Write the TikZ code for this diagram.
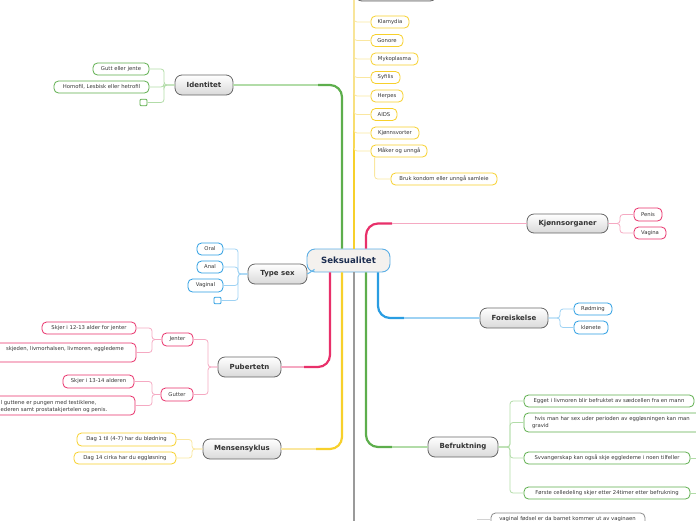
\documentclass[tikz,border=0pt]{standalone}
\usepackage{fontspec}
\setmainfont{DejaVu Sans}
\definecolor{pinkc}{HTML}{E8306A}
\definecolor{pinkl}{HTML}{F5A9C2}
\definecolor{greenc}{HTML}{5DAE4C}
\definecolor{greenl}{HTML}{B2DCA8}
\definecolor{yellowc}{HTML}{F7D02B}
\definecolor{yellowl}{HTML}{FAE7A0}
\definecolor{grayc}{HTML}{9A9A9A}
\definecolor{grayl}{HTML}{D2D2D2}
\definecolor{bluec}{HTML}{2A9DE2}
\definecolor{bluel}{HTML}{9ED2F3}
\definecolor{topicb}{HTML}{666666}
\definecolor{topicf}{HTML}{D9D9D9}
\definecolor{topict}{HTML}{333333}
\definecolor{subt}{HTML}{363636}
\definecolor{ctrb}{HTML}{5BAEE5}
\definecolor{ctrf}{HTML}{F4F1EE}
\definecolor{ctrt}{HTML}{1C2D50}
\definecolor{grayn}{HTML}{8A8A8A}
\tikzset{
  topic/.style={draw=topicb, line width=0.8pt, rounded corners=7pt, top color=white, bottom color=topicf,
    text=topict, font=\fontsize{7}{8}\selectfont\bfseries, inner sep=0pt, minimum height=20pt},
  ctrnode/.style={draw=ctrb, line width=0.9pt, rounded corners=8pt, fill=ctrf, text=ctrt,
    font=\fontsize{8.6}{10}\selectfont\bfseries, inner sep=0pt, minimum width=83pt, minimum height=23pt},
  sub/.style={fill=white, line width=0.8pt, rounded corners=4.5pt, text=subt,
    font=\fontsize{5.3}{6.5}\selectfont, inner sep=0pt, minimum height=12pt},
  subp/.style={sub, draw=pinkc},
  subg/.style={sub, draw=greenc},
  suby/.style={sub, draw=yellowc},
  subb/.style={sub, draw=bluec},
  subgr/.style={sub, draw=grayn},
  sq/.style={sub, rounded corners=1pt, minimum width=7pt, minimum height=6.5pt},
  plain/.style={text=subt, font=\fontsize{5.3}{6.5}\selectfont, inner sep=0pt},
  treep/.style={draw=pinkl, line width=0.8pt, rounded corners=3pt},
  treeg/.style={draw=greenl, line width=0.8pt, rounded corners=3pt},
  treey/.style={draw=yellowl, line width=0.8pt, rounded corners=3pt},
  treeb/.style={draw=bluel, line width=0.8pt, rounded corners=3pt},
  treegr/.style={draw=grayl, line width=0.8pt},
  branch/.style={line width=2.2pt, rounded corners=12pt},
  lead/.style={line width=1.1pt},
}
\begin{document}
\begin{tikzpicture}[x=1pt,y=-1pt]
\useasboundingbox (0,0) rectangle (696,520);

% ---------- topic nodes ----------
\node[ctrnode] (ctr) at (348.5,260.5) {Seksualitet};
\node[topic, minimum width=59pt] (typesex) at (277.5,274) {Type sex};
\node[topic, minimum width=58pt] (ident) at (204,85) {Identitet};
\node[topic, minimum width=63pt] (pub) at (249.5,367) {Pubertetn};
\node[topic, minimum width=78pt] (mens) at (242,449) {Mensensyklus};
\node[topic, minimum width=81pt, minimum height=19pt] (kjonn) at (567.5,223.5) {Kjønnsorganer};
\node[topic, minimum width=68pt] (forel) at (514,318) {Foreiskelse};
\node[topic, minimum width=70pt] (befr) at (463,447) {Befruktning};
\node[topic, minimum width=82pt] (stdtop) at (396,-9) {};

% ---------- coordinates for branch bends ----------
\coordinate (idk) at (318,85);
\coordinate (kjk) at (392,223.5);
\coordinate (fok) at (404,318);
\coordinate (bek) at (392,447);
\coordinate (puk) at (304,367);
\coordinate (mek) at (316,449);
\coordinate (stdroot) at (354,-4);
\coordinate (graybot) at (354,530);

% ---------- main branches ----------
\draw[branch, greenc] ([xshift=-6.5pt]ctr.north) |- (idk);
\draw[lead, greenl] (idk) -- (ident.east);
\draw[branch, yellowc] ([xshift=5.5pt]ctr.north) -- (stdroot);
\draw[branch, pinkc] ([xshift=17.5pt]ctr.north) |- (kjk);
\draw[lead, pinkl] (kjk) -- (kjonn.west);
\draw[branch, bluec] ([xshift=29.5pt]ctr.south) |- (fok);
\draw[lead, bluel] (fok) -- (forel.west);
\draw[branch, greenc] ([xshift=17.5pt]ctr.south) |- (bek);
\draw[lead, greenl] (bek) -- (befr.west);
\draw[branch, grayc] ([xshift=5.5pt]ctr.south) -- (graybot);
\draw[branch, yellowc] ([xshift=-6.5pt]ctr.south) |- (mek);
\draw[lead, yellowl] (mek) -- (mens.east);
\draw[branch, pinkc] ([xshift=-18.5pt]ctr.south) |- (puk);
\draw[lead, pinkl] (puk) -- (pub.east);
\draw[lead, bluec!70] (typesex.east) -- ([xshift=8pt,yshift=3pt]ctr.south west);

% ---------- Identitet ----------
\node[subg, minimum width=56pt] (gutt) at (121,69) {Gutt eller jente};
\node[subg, minimum width=95pt] (homo) at (101.5,87) {Homofil, Lesbisk eller hetrofil};
\node[subg, sq] (idsq) at (143.5,102.5) {};
\foreach \c in {gutt,homo,idsq} \draw[treeg] (\c.east) -| (164,85) -- (ident.west);

% ---------- Type sex ----------
\node[subb, minimum width=26pt] (oral) at (210,249) {Oral};
\node[subb, minimum width=26pt] (anal) at (210,267) {Anal};
\node[subb, minimum width=35pt, minimum height=13pt] (vaginal) at (205.5,285.5) {Vaginal};
\node[subb, sq] (tssq) at (217.5,300.5) {};
\foreach \c in {oral,anal,vaginal,tssq} \draw[treeb] (\c.east) -| (238,274) -- (typesex.west);

% ---------- Puberteten ----------
\node[subp, minimum width=31pt, minimum height=13pt] (jenter) at (177.5,339.5) {Jenter};
\node[subp, minimum width=32pt, minimum height=13pt] (gutter) at (177,394.5) {Gutter};
\foreach \c in {jenter,gutter} \draw[treep] (\c.east) -| (208,367) -- (pub.west);
\node[subp, minimum width=94pt] (j1) at (89,328) {Skjer i 12-13 alder for jenter};
\node[subp, minimum width=196pt, minimum height=19pt] (j2) at (38,352.5) {};
\node[plain, anchor=east] (j2t) at (124,349.5) {skjeden, livmorhalsen, livmoren, eggledeme};
\foreach \c in {j1,j2} \draw[treep] (\c.east) -| (152,339.5) -- (jenter.west);
\node[subp, minimum width=71pt, minimum height=13pt] (g1) at (98.5,381.5) {Skjer i 13-14 alderen};
\node[subp, minimum width=195pt, minimum height=19pt] (g2) at (37.5,405.5) {};
\node[plain, anchor=west, align=left] (g2t) at (0.5,406.3) {l guttene er pungen med testiklene,\\ederen samt prostatakjertelen og penis.};
\foreach \c in {g1,g2} \draw[treep] (\c.east) -| (152,394.5) -- (gutter.west);

% ---------- Mensensyklus ----------
\node[suby, minimum width=99pt, minimum height=13pt] (m1) at (126.5,439.5) {Dag 1 til (4-7) har du blødning};
\node[suby, minimum width=102pt] (m2) at (125,458) {Dag 14 cirka har du eggløsning};
\foreach \c in {m1,m2} \draw[treey] (\c.east) -| (192,449) -- (mens.west);

% ---------- STD list ----------
\node[suby, minimum width=38pt] (klam) at (390,22) {Klamydia};
\node[suby, minimum width=32pt] (gono) at (387,40.5) {Gonore};
\node[suby, minimum width=47pt] (myko) at (394.5,59) {Mykoplasma};
\node[suby, minimum width=29pt] (syf) at (385.5,77.5) {Syfilis};
\node[suby, minimum width=32pt] (herp) at (387,96) {Herpes};
\node[suby, minimum width=26pt] (aids) at (384,114.5) {AIDS};
\node[suby, minimum width=48pt] (kjv) at (395,133) {Kjønnsvorter};
\node[suby, minimum width=56pt] (maker) at (399,151) {Måker og unngå};
\node[suby, minimum width=106pt] (bruk) at (444,179) {Bruk kondom eller unngå samleie};
\foreach \c in {klam,gono,myko,syf,herp,aids,kjv,maker} \draw[treey] (stdroot) |- (\c.west);
\draw[treey] ([xshift=4pt]maker.south west) |- (bruk.west);

% ---------- Kjønnsorganer ----------
\node[subp, minimum width=28pt, minimum height=13pt] (penis) at (648,214.5) {Penis};
\node[subp, minimum width=32pt] (vagina) at (650,233) {Vagina};
\foreach \c in {penis,vagina} \draw[treep] (kjonn.east) -- (620,223.5) |- (\c.west);

% ---------- Foreiskelse ----------
\node[subb, minimum width=38pt] (rod) at (593,309) {Rødming};
\node[subb, minimum width=34pt, minimum height=13pt] (klo) at (591,327.5) {klønete};
\foreach \c in {rod,klo} \draw[treeb] (forel.east) -- (560,318) |- (\c.west);

% ---------- Befruktning ----------
\node[subg, minimum width=170pt] (b1) at (609,401) {Egget i livmoren blir befruktet av sædcellen fra en mann};
\node[subg, minimum height=19pt, text width=220pt, align=left, inner xsep=8pt] (b2) at (642,422.5)
  {\hspace{2.5pt}hvis man har sex uder perioden av eggløsningen kan man\\gravid};
\node[subg, minimum width=166pt] (b3) at (607,458) {Svvangerskap kan også skje eggledeme i noen tilfeller};
\node[subg, minimum width=166pt] (b4) at (607,493) {Første celledeling skjer etter 24timer etter befrukning};
\foreach \c in {b1,b2,b3,b4} \draw[treeg] (befr.east) -- (510,447) |- (\c.west);
\coordinate (b3out) at (705,458);
\coordinate (b4out) at (705,493);
\draw[treeg, line width=1pt] (b3.east) -- (b3out);
\draw[treeg, line width=1pt] (b4.east) -- (b4out);

% ---------- bottom ----------
\node[subgr, minimum width=154pt, minimum height=22pt] (vag) at (568,524) {};
\node[plain] (vagt) at (567.5,518.6) {vaginal fødsel er da barnet kommer ut av vaginaen};
\coordinate (vagst) at (477,519);
\draw[treegr, line width=1pt] (vagst) -- ([yshift=5pt]vag.west);
\end{tikzpicture}
\end{document}
